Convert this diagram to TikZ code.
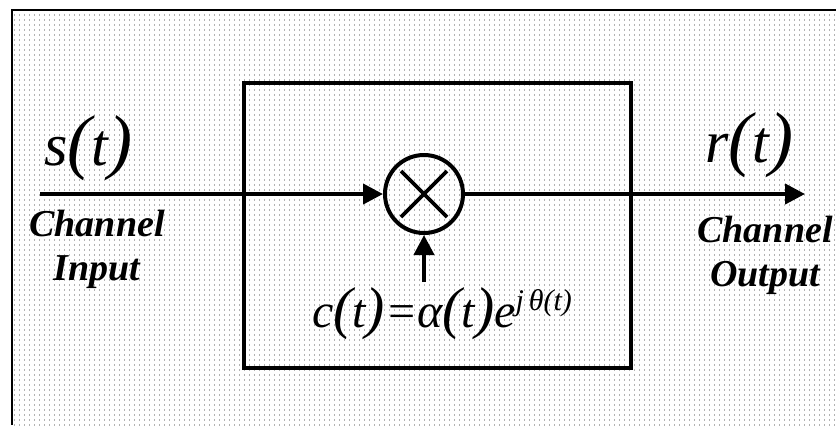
\documentclass[tikz,border=0pt]{standalone}
\usepackage{fontspec}
\setmainfont{Liberation Serif}
\usepackage{graphicx}
\usetikzlibrary{arrows.meta, positioning}

\newcommand{\lpar}{\scalebox{1.2}{(}}
\newcommand{\rpar}{\scalebox{1.2}{)}}

\begin{document}
\begin{tikzpicture}[
        x=0.5pt, y=-0.5pt,
        dotrow/.style={black!30, line width=0.6pt, dash pattern=on 0.6pt off 1.9pt},
        outerframe/.style={draw, line width=0.8pt},
        chbox/.style={draw, rectangle, line width=1.6pt, minimum width=193.5pt, minimum height=142.5pt},
        mixer/.style={draw, circle, line width=2pt, minimum size=39pt, inner sep=0pt},
        signal/.style={font=\fontsize{30}{30}\selectfont\itshape, inner sep=0pt, anchor=base},
        formula/.style={font=\fontsize{24}{24}\selectfont\itshape, inner sep=0pt, anchor=base},
        chlabel/.style={font=\fontsize{19}{22}\selectfont\bfseries\itshape, align=center, inner sep=0pt, anchor=base},
        arrow/.style={-{Triangle[length=10pt, width=10pt]}, line width=2pt}
    ]
        \useasboundingbox (0,0) rectangle (836,425);

        % scanned paper texture
        \foreach \row in {15,20,...,425}
            \draw[dotrow] (14,\row) -- (836,\row);
        \draw[outerframe] (12,425) -- (12,10) -- (836,10);

        % Channel block
        \node (chan) [chbox] at (437.5,225.5) {};

        % Multiplier
        \node (mult) [mixer] at (424,194) {};
        \draw[line width=1.8pt] (mult.center) +(-23,-23) -- +(23,23)
                                (mult.center) +(-23,23) -- +(23,-23);

        % End points
        \coordinate (in) at (40,194);
        \coordinate (out) at (805,194);
        \coordinate (ctl) at (424,282);

        % Signals
        \draw [arrow] (in) -- (mult);
        \draw [arrow] (mult) -- (out);
        \draw [arrow] (ctl) -- (mult);

        % Labels (base = last line)
        \node (st) [signal] at (88,165) {s\lpar t\rpar};
        \node (rt) [signal] at (749,162) {r\lpar t\rpar};
        \node (ct) [formula] at (442,327) {c\lpar t\rpar{}=α\lpar t\rpar e\raisebox{8.5pt}{\fontsize{15}{15}\selectfont j\,θ(t)}};
        \node (inlbl) [chlabel] at (97,280) {Channel\\Input};
        \node (outlbl) [chlabel] at (765,286) {Channel\\Output};
    \end{tikzpicture}
\end{document}
